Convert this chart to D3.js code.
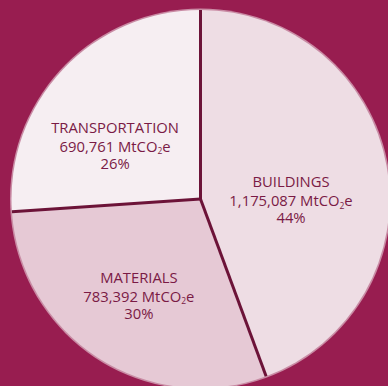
<!DOCTYPE html>
<html>
<head>
<meta charset="utf-8">
<script src="https://cdn.jsdelivr.net/npm/d3@7"></script>
<style>
  html, body { margin: 0; padding: 0; background: #981d50; }
  svg { display: block; }
</style>
</head>
<body>
<svg id="chart" width="388" height="386"></svg>
<script>
// Emissions by sector (MtCO2e)
const sectors = ["BUILDINGS", "MATERIALS", "TRANSPORTATION"];
const emissions = [1175087, 783392, 690761];
const valueLabels = ["1,175,087", "783,392", "690,761"];
const percentLabels = ["44%", "30%", "26%"];
const sliceColors = ["#eedde4", "#e6c9d5", "#f6eef2"];
// first-line label anchors relative to the pie centre, in units of radius
const labelOffsets = [[0.479, -0.063], [-0.326, 0.444], [-0.452, -0.351]];

const W = 388, H = 386;
const cx = 200.5, cy = 199, R = 189;

const svg = d3.select("#chart");
svg.append("rect").attr("width", W).attr("height", H).attr("fill", "#981d50");

const data = sectors.map((s, i) => ({ sector: s, value: emissions[i], i }));
const pie = d3.pie().sort(null).value(d => d.value);
const arcs = pie(data);
const arc = d3.arc().innerRadius(0).outerRadius(R);

const g = svg.append("g").attr("transform", `translate(${cx},${cy})`);

// soft light rim around the disc
g.append("circle").attr("r", R + 1.5).attr("fill", "#c98ba4");

g.selectAll("path.slice")
  .data(arcs)
  .join("path")
  .attr("class", "slice")
  .attr("d", arc)
  .attr("fill", d => sliceColors[d.data.i]);

// dark dividers between the slices
const rad = d3.scaleLinear().domain([0, 1]).range([0, R]);
g.selectAll("line.divider")
  .data(arcs)
  .join("line")
  .attr("class", "divider")
  .attr("x1", 0).attr("y1", 0)
  .attr("x2", d => rad(1) * Math.sin(d.startAngle))
  .attr("y2", d => -rad(1) * Math.cos(d.startAngle))
  .attr("stroke", "#6c1338")
  .attr("stroke-width", 3)
  .attr("stroke-linecap", "butt");

// labels: sector name, emissions with subscript 2, share
const textColor = "#7a1a45";
const labels = g.selectAll("text.label")
  .data(arcs)
  .join("text")
  .attr("class", "label")
  .attr("text-anchor", "middle")
  .attr("font-family", "'Open Sans', 'Noto Sans', sans-serif")
  .attr("font-size", 14.8)
  .attr("fill", textColor)
  .attr("transform", d => {
    const o = labelOffsets[d.data.i];
    return `translate(${rad(o[0])},${rad(o[1])})`;
  });

labels.each(function(d) {
  const t = d3.select(this);
  const i = d.data.i;
  t.append("tspan").attr("x", 0).attr("dy", 0).text(sectors[i]);
  const l2 = t.append("tspan").attr("x", 0).attr("dy", 19);
  l2.append("tspan").text(valueLabels[i] + " MtCO");
  l2.append("tspan").attr("font-size", 8.5).attr("dy", 2.5).text("2");
  l2.append("tspan").attr("dy", -2.5).text("e");
  t.append("tspan").attr("x", 0).attr("dy", 17).text(percentLabels[i]);
});
</script>
</body>
</html>
